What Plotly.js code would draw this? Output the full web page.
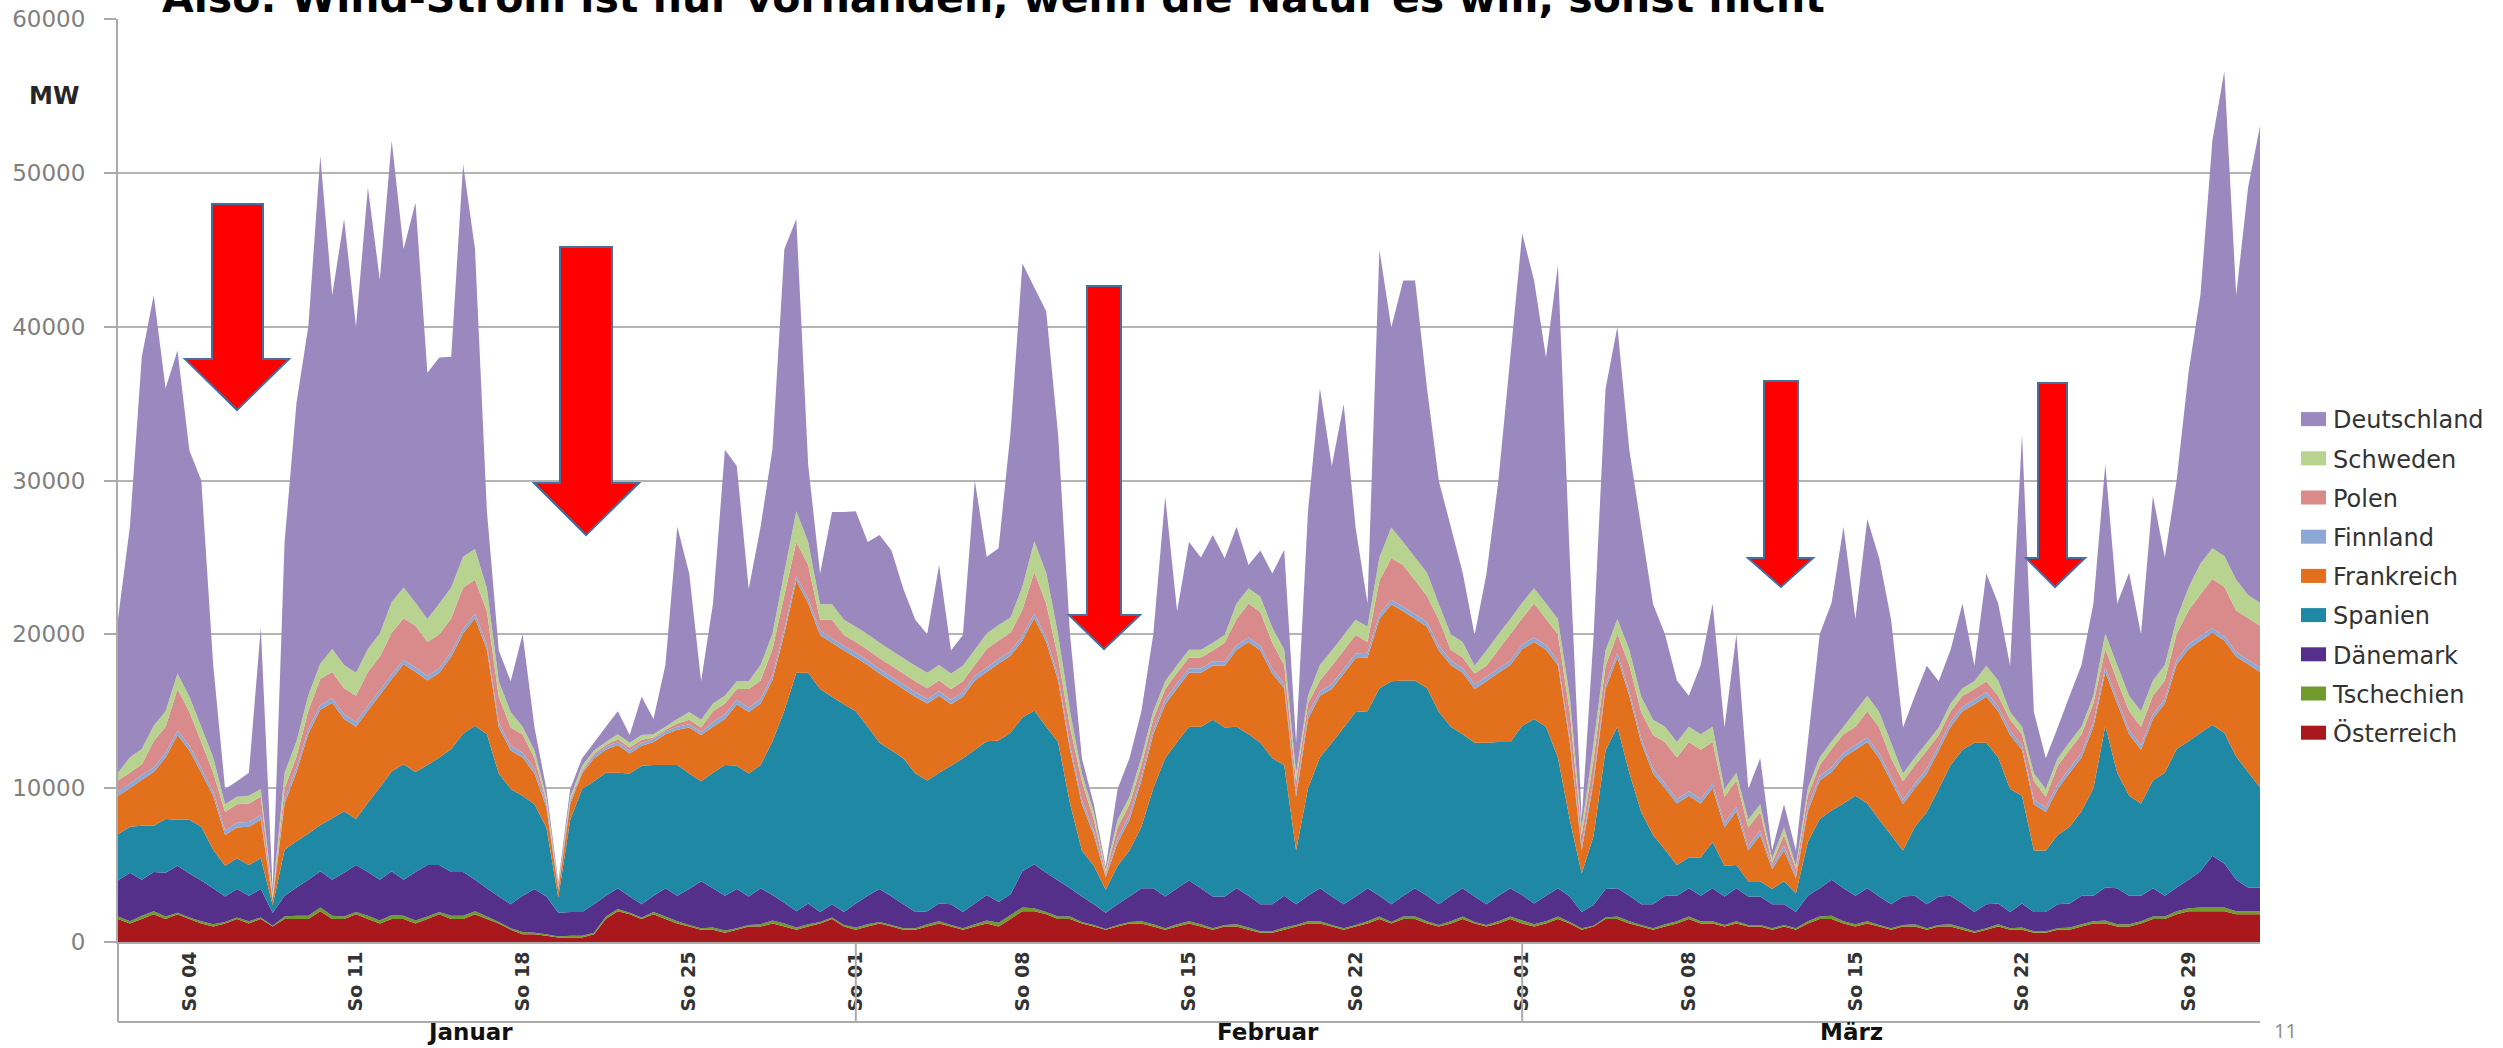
<!DOCTYPE html>
<html>
<head>
<meta charset="utf-8">
<script src="https://cdn.plot.ly/plotly-3.0.1.min.js"></script>
<style>
  html, body { margin: 0; padding: 0; background: #ffffff; overflow: hidden; }
  #chart { width: 2503px; height: 1048px; }
</style>
</head>
<body>
<div id="chart"></div>
<script>
// ---------- DATA (MW, 12-hour samples, 1 Jan 2015 00:00 -> 1 Apr 2015 00:00) ----------
const startDate = '2015-01-01T00:00:00Z';
const stepHours = 12;

const tickDates = ['2015-01-04','2015-01-11','2015-01-18','2015-01-25','2015-02-01','2015-02-08',
  '2015-02-15','2015-02-22','2015-03-01','2015-03-08','2015-03-15','2015-03-22','2015-03-29'];
const tickLabels = ['So 04','So 11','So 18','So 25','So 01','So 08','So 15','So 22','So 01','So 08','So 15','So 22','So 29'];
const monthLabels = ['Januar','Februar','März'];

const oesterreich = [
  1500,1200,1500,1800,1500,1800,1500,1200,1000,1200,
  1500,1200,1500,1000,1500,1500,1500,2000,1500,1500,
  1800,1500,1200,1500,1500,1200,1500,1800,1500,1500,
  1800,1500,1200,800,500,500,400,300,300,300,
  500,1500,2000,1800,1500,1800,1500,1200,1000,800,
  800,600,800,1000,1000,1200,1000,800,1000,1200,
  1500,1000,800,1000,1200,1000,800,800,1000,1200,
  1000,800,1000,1200,1000,1500,2000,2000,1800,1500,
  1500,1200,1000,800,1000,1200,1200,1000,800,1000,
  1200,1000,800,1000,1000,800,600,600,800,1000,
  1200,1200,1000,800,1000,1200,1500,1200,1500,1500,
  1200,1000,1200,1500,1200,1000,1200,1500,1200,1000,
  1200,1500,1200,800,1000,1500,1500,1200,1000,800,
  1000,1200,1500,1200,1200,1000,1200,1000,1000,800,
  1000,800,1200,1500,1500,1200,1000,1200,1000,800,
  1000,1000,800,1000,1000,800,600,800,1000,800,
  800,600,600,800,800,1000,1200,1200,1000,1000,
  1200,1500,1500,1800,2000,2000,2000,2000,1800,1800,1800];

const tschechien = [
  150,150,200,200,150,100,100,150,150,100,
  100,150,100,50,150,200,200,250,200,150,
  150,200,200,250,200,200,150,150,200,200,
  200,150,100,100,150,100,100,50,100,100,
  100,150,150,100,100,150,150,150,100,100,
  150,150,100,100,150,200,200,150,150,100,
  100,100,150,150,100,100,100,100,150,150,
  100,100,150,200,250,250,250,200,150,150,
  150,100,100,50,100,100,150,150,100,150,
  150,150,100,100,150,150,100,100,150,100,
  150,150,100,100,100,150,150,100,150,150,
  150,100,150,150,100,100,150,150,200,150,
  150,150,100,100,50,100,150,150,100,100,
  150,150,150,150,150,100,150,100,100,100,
  100,100,150,150,200,150,150,150,100,100,
  100,150,100,100,150,150,100,100,150,100,
  150,100,100,100,150,150,150,200,150,150,
  150,150,150,200,200,250,250,250,200,200,200];

const daenemark = [
  2350,3150,2350,2550,2850,3050,2850,2650,2350,1650,
  1850,1650,1850,850,1350,1850,2350,2350,2350,2850,
  3050,2850,2650,2850,2350,3150,3350,3050,2850,2850,
  2050,1850,1650,1550,2350,2850,2450,1550,1550,1550,
  1850,1350,1350,1050,850,1050,1850,1650,2350,3050,
  2550,2250,2550,1850,2350,1650,1350,1050,1350,650,
  850,850,1550,1850,2150,1850,1550,1050,850,1150,
  1350,1050,1350,1650,1350,1350,2350,2850,2550,2350,
  1850,1650,1350,1050,1350,1650,2150,2350,2050,2350,
  2650,2350,2050,1850,2350,2050,1750,1750,2050,1350,
  1650,2150,1850,1550,1850,2150,1350,1150,1350,1850,
  1650,1350,1650,1850,1650,1350,1650,1850,1650,1350,
  1650,1850,1650,1050,1350,1850,1850,1650,1350,1550,
  1850,1650,1850,1650,2150,1850,2150,1850,1850,1550,
  1350,1050,1650,1850,2350,2150,1850,2150,1850,1550,
  1850,1850,1550,1850,1850,1550,1250,1550,1350,1050,
  1550,1250,1250,1550,1550,1850,1650,2150,2350,1850,
  1650,1850,1350,1550,1850,2350,3350,2850,2050,1550,1550];

const spanien = [
  3000,3000,3500,3000,3500,3000,3500,3500,2500,2000,
  2000,2000,2000,500,3000,3000,3000,3000,4000,4000,
  3000,4500,6000,6500,7500,6500,6500,7000,8000,9000,
  10000,10000,8000,7500,6500,5500,4500,1000,6000,8000,
  8000,8000,7500,8000,9000,8500,8000,8500,7500,6500,
  7500,8500,8000,8000,8000,10000,12500,15500,15000,14500,
  13500,13500,12500,11000,9500,9500,9500,9000,8500,8500,
  9000,10000,10000,10000,10500,10500,10000,10000,9500,9000,
  5500,3000,2500,1500,2500,3000,4000,6500,9000,9500,
  10000,10500,11500,11000,10500,10500,10500,9500,8500,3500,
  7000,8500,10000,11500,12000,11500,13500,14500,14000,13500,
  13500,12500,11000,10000,10000,10500,10000,9500,11000,12000,
  11000,8500,5000,2500,4500,9000,10500,8000,6000,4500,
  3000,2000,2000,2500,3000,2000,1500,1000,1000,1000,
  1500,1200,3500,4500,4500,5500,6500,5500,5000,4500,
  3000,4500,6000,7000,8500,10000,11000,10500,9500,8000,
  7000,4000,4000,4500,5000,5500,7000,10500,7500,6500,
  6000,7000,8000,9000,9000,9000,8500,8500,8000,7500,6500];

const frankreich = [
  2500,2500,3000,3500,4000,5500,4500,3500,3500,2000,
  2000,2500,2500,300,3000,4500,6500,7500,7500,6000,
  6000,6000,6000,6000,6500,6500,5500,5500,6000,6500,
  7000,5500,3000,2500,2500,2000,1300,500,1000,1000,
  1500,1500,1800,1300,1300,1500,2000,2300,3000,3000,
  3000,3000,4000,4000,4000,4000,5000,6000,4500,3500,
  3500,3500,3500,4000,4500,4500,4500,5000,5000,5000,
  4000,4000,4500,4500,5000,5000,5000,6000,5500,4000,
  3500,3000,2000,800,1500,2000,3000,3500,3500,3500,
  3500,3500,3500,4000,5000,6000,6000,5500,5000,3500,
  4500,4000,3500,3500,3500,3500,4500,5000,4500,4000,
  4000,4000,4000,4000,3500,4000,4500,5000,5000,5000,
  5000,6000,5000,1500,3500,4000,4500,5000,4500,4000,
  4000,4000,4000,3500,3500,2500,3500,2000,3000,1300,
  2000,1000,2000,2500,2500,3000,3000,4000,4000,3500,
  3000,2500,2500,2500,2500,2500,2500,3000,3000,3500,
  3000,3000,2500,3000,3500,3500,4000,3500,4500,4000,
  3500,4000,4500,5500,6000,6000,6000,6000,6500,7000,7500];

const finnland = [
  300,300,300,300,300,300,300,300,300,300,
  300,300,300,100,300,300,300,300,300,300,
  300,300,300,300,300,300,300,300,300,300,
  300,300,300,300,300,300,300,100,200,100,
  200,200,200,200,200,200,200,200,200,200,
  300,300,300,300,300,300,300,300,300,300,
  300,300,300,300,300,300,300,300,300,300,
  300,300,300,300,300,300,300,300,300,300,
  300,300,300,100,300,300,300,300,300,300,
  300,300,300,300,300,300,300,300,300,300,
  300,300,300,300,300,300,300,300,300,300,
  300,300,300,300,300,300,300,300,300,300,
  300,300,300,300,300,300,300,300,300,300,
  300,300,300,300,300,300,300,300,300,200,
  300,200,300,300,300,300,300,300,300,300,
  300,300,300,300,300,300,300,300,300,300,
  300,300,300,300,300,300,300,300,300,300,
  300,300,300,300,300,300,300,300,300,300,300];

const polen = [
  700,700,700,1700,1700,2700,2200,1700,1200,1200,
  1200,1200,1200,100,700,700,1200,1700,1700,1700,
  1700,2200,2200,2700,2700,2700,2200,2200,2200,2700,
  2200,2200,1700,1200,1200,700,100,100,100,100,
  100,100,200,200,200,100,100,200,300,300,
  700,700,700,1200,1200,1700,2200,2200,2200,700,
  1200,700,700,700,700,700,700,700,700,700,
  700,700,700,1200,1200,1200,1700,2700,2200,1200,
  1200,1200,700,200,700,700,700,700,700,700,
  700,700,700,1200,1700,2200,2200,1700,1200,700,
  700,700,1200,1200,1200,700,2200,2700,2700,2200,
  1700,1700,700,700,700,700,1200,1700,1700,2200,
  1700,1700,1700,700,1200,1200,1200,1700,1700,2200,
  2700,2700,3200,3200,2700,1700,1700,1200,1200,200,
  700,400,700,700,1200,1200,1200,1700,1700,1200,
  1200,1200,1200,700,700,700,700,700,700,700,
  700,1200,700,1200,1200,1200,1200,1200,1200,1200,
  1200,1200,1200,1700,2200,2700,3200,3200,2700,2700,2700];

const schweden = [
  500,1000,1000,1000,1000,1000,1000,1000,1000,500,
  500,500,500,200,1000,1000,1000,1000,1500,1500,
  1500,1500,1500,2000,2000,1500,1500,2000,2000,2000,
  2000,1500,1000,1000,500,500,300,100,200,300,
  200,200,300,300,300,200,200,300,500,500,
  500,500,500,500,1000,1000,1500,2000,1500,1000,
  1000,1000,1000,1000,1000,1000,1000,1000,1000,1000,
  1000,1000,1000,1000,1000,1000,1500,2000,2000,1500,
  1000,500,500,200,500,500,500,500,500,500,
  500,500,500,500,1000,1000,1000,1000,1000,500,
  500,1000,1000,1000,1000,1000,1500,2000,1500,1500,
  1500,1000,1000,1000,500,1000,1000,1000,1000,1000,
  1000,1000,1000,500,1000,1000,1000,1000,1000,1000,
  1000,1000,1000,1000,1000,500,500,500,500,300,
  500,200,500,500,500,500,1000,1000,1000,1000,
  500,500,500,500,500,500,500,1000,1000,500,
  500,500,500,500,500,500,500,1000,1000,1000,
  1000,1000,1000,1000,1500,2000,2000,2000,2000,1500,1500];

const deutschland = [
  10000,15000,25500,28000,21000,21000,16000,16000,6000,1000,
  1000,1500,10500,300,15000,22000,24000,33000,23000,29000,
  22500,30000,23000,30000,22000,26000,16000,16000,15000,25500,
  19500,5000,2000,2000,6000,1500,500,200,500,500,
  500,1000,1500,500,2500,1000,4000,12500,9000,2500,
  6500,16000,14000,6000,9000,12000,21000,19000,5000,2000,
  6000,7000,7500,6000,7000,6500,4500,3000,2500,6500,
  1500,2000,11000,5000,5000,12000,21000,16500,17000,13000,
  5000,1000,500,200,2000,2500,3000,5000,12000,3500,
  7000,6000,7000,5000,5000,1500,3000,3500,6500,2000,
  12000,18000,12000,15000,6000,1500,20000,13000,17000,18000,
  12000,8000,7000,4500,2000,5000,10000,17000,24000,20000,
  16000,23000,9000,500,7000,17000,19000,13000,11000,7500,
  6000,4000,2000,4500,8000,4000,9000,2000,3000,500,
  1500,1000,3000,8000,9000,13000,6000,11500,10000,8000,
  3000,4000,5000,3000,3500,5500,1000,6000,5000,3000,
  19000,4000,2000,2000,3000,4000,6000,11000,4000,8000,
  5000,12000,7000,9000,14000,17500,26500,31500,18500,26500,31000];

// ---------- STYLE ----------
const seriesDefs = [
  {name:'Österreich',  values: oesterreich, color:'#A8181D'},
  {name:'Tschechien',  values: tschechien,  color:'#6F9A2D'},
  {name:'Dänemark',    values: daenemark,   color:'#55308A'},
  {name:'Spanien',     values: spanien,     color:'#1F88A4'},
  {name:'Frankreich',  values: frankreich,  color:'#E2701C'},
  {name:'Finnland',    values: finnland,    color:'#8DA8D4'},
  {name:'Polen',       values: polen,       color:'#D98B8B'},
  {name:'Schweden',    values: schweden,    color:'#B8D38F'},
  {name:'Deutschland', values: deutschland, color:'#9B88BE'}
];

// time axis for the samples
const t0 = Date.parse(startDate);
const xDates = deutschland.map((_, i) =>
  new Date(t0 + i * stepHours * 3600e3).toISOString().slice(0, 19).replace('T', ' '));

const traces = seriesDefs.map((s, i) => ({
  type: 'scatter', mode: 'none', name: s.name, x: xDates, y: s.values,
  stackgroup: 'wind', fillcolor: s.color, line: {width: 0, shape: 'linear'},
  legendgroup: s.name, legendrank: seriesDefs.length - i, hoverinfo: 'skip'
}));

// pixel geometry of the plot area
const W = 2503, H = 1048, PL = 118, PR = 2260, PT = 19, PB = 942;
const px = x => (x - PL) / (PR - PL);
const py = y => (PB - y) / (PB - PT);

// red arrows (pixel geometry)
const arrowGeo = [
  {sl:212, sr:263, top:204, hl:185, hr:289, base:359, tx:237, ty:410},
  {sl:560, sr:612, top:247, hl:534, hr:639, base:483, tx:586, ty:535},
  {sl:1087, sr:1121, top:286, hl:1069, hr:1140, base:615, tx:1104, ty:649},
  {sl:1764, sr:1798, top:381, hl:1748, hr:1813, base:558, tx:1781, ty:587},
  {sl:2038, sr:2067, top:383, hl:2026, hr:2085, base:558, tx:2055, ty:587}
];
const arrowShapes = arrowGeo.map(a => ({
  type:'path', xref:'paper', yref:'paper', layer:'above',
  path: `M${px(a.sl)},${py(a.top)} L${px(a.sr)},${py(a.top)} L${px(a.sr)},${py(a.base)} ` +
        `L${px(a.hr)},${py(a.base)} L${px(a.tx)},${py(a.ty)} L${px(a.hl)},${py(a.base)} ` +
        `L${px(a.sl)},${py(a.base)} Z`,
  fillcolor:'#FF0000', line:{color:'#41719C', width:2}
}));

const axisGray = '#ABABAB';
const lowY = py(1022);
const dividerShapes = [
  {type:'line', xref:'paper', yref:'paper', x0:0, x1:0, y0:0, y1:lowY, line:{color:axisGray, width:2}},
  {type:'line', xref:'paper', yref:'paper', x0:31/90, x1:31/90, y0:0, y1:lowY, line:{color:axisGray, width:2}},
  {type:'line', xref:'paper', yref:'paper', x0:59/90, x1:59/90, y0:0, y1:lowY, line:{color:axisGray, width:2}},
  {type:'line', xref:'paper', yref:'paper', x0:0, x1:1, y0:lowY, y1:lowY, line:{color:axisGray, width:2}}
];

const monthPos = [470, 1268, 1851];
const annotations = [
  {text:'Also: Wind-Strom ist nur vorhanden, wenn die Natur es will, sonst nicht',
   xref:'paper', yref:'paper', x:px(160), y:py(-2), xanchor:'left', yanchor:'middle', showarrow:false,
   font:{family:'DejaVu Sans', size:41, color:'#000000', weight:'bold'}},
  {text:'MW', xref:'paper', yref:'paper', x:px(54), y:py(96), xanchor:'center', yanchor:'middle',
   showarrow:false, font:{family:'DejaVu Sans', size:24, color:'#262626', weight:'bold'}},
  {text:'11', xref:'paper', yref:'paper', x:px(2285), y:py(1030), xanchor:'center', yanchor:'middle',
   showarrow:false, font:{family:'Open Sans', size:20, color:'#8C8C8C'}}
].concat(monthLabels.map((m, i) => ({
  text:m, xref:'paper', yref:'paper', x:px(monthPos[i]), y:py(1032), xanchor:'center', yanchor:'middle',
  showarrow:false, font:{family:'DejaVu Sans', size:23, color:'#111111', weight:'bold'}
})));

const layout = {
  width: W, height: H,
  margin: {l: PL, r: W - PR, t: PT, b: H - PB, pad: 0},
  paper_bgcolor: '#ffffff', plot_bgcolor: '#ffffff',
  showlegend: true,
  legend: {x: px(2293), y: py(397), xanchor:'left', yanchor:'top', traceorder:'grouped',
           tracegroupgap: 5, bgcolor:'rgba(0,0,0,0)',
           font:{family:'DejaVu Sans', size:24, color:'#333333'}},
  xaxis: {type:'date', range:['2015-01-01 00:00','2015-04-01 00:00'], tickmode:'array',
          tickvals: tickDates, ticktext: tickLabels, tickangle:-90, ticks:'', showgrid:false,
          showline:true, linecolor:axisGray, linewidth:2, zeroline:false, fixedrange:true,
          tickfont:{family:'DejaVu Sans', size:19, color:'#333333', weight:'bold'}},
  yaxis: {range:[0, 60000], dtick:10000, tick0:0, showgrid:true, gridcolor:'#B4B4B4', gridwidth:2,
          showline:true, linecolor:axisGray, linewidth:2, ticks:'outside', ticklen:12,
          tickcolor:axisGray, tickwidth:2, ticklabelstandoff:14, zeroline:false, fixedrange:true,
          tickformat:'d',
          tickfont:{family:'DejaVu Sans', size:23, color:'#7F7F7F'}},
  shapes: dividerShapes.concat(arrowShapes),
  annotations: annotations
};

Plotly.newPlot('chart', traces, layout, {displayModeBar:false, staticPlot:true}).then(gd => {
  gd.querySelectorAll('.legendfill path').forEach(p => p.setAttribute('d', 'M8,-7h25v14h-25z'));
});
</script>
</body>
</html>
